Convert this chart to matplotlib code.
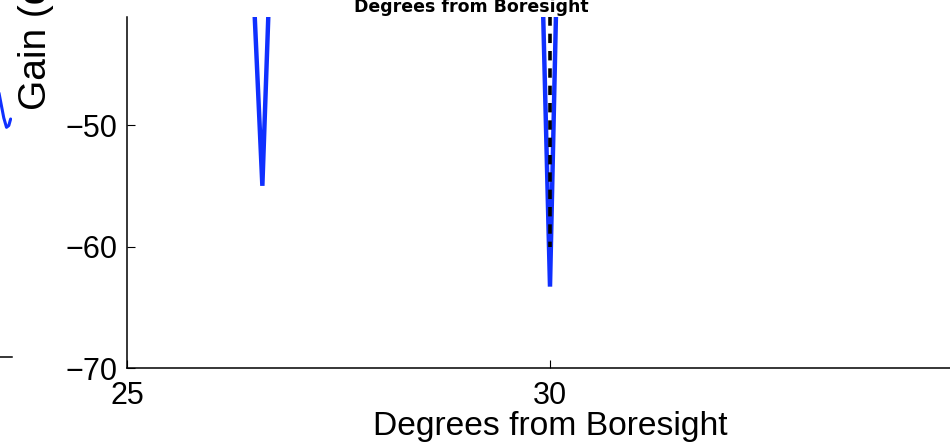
import matplotlib
matplotlib.use("Agg")
import matplotlib.pyplot as plt

plt.rcParams['font.family'] = ['Liberation Sans', 'DejaVu Sans']

# Gain pattern around the nulls (dB vs degrees from boresight)
angle_deg = [26.40, 26.51, 26.60, 26.67, 26.80, 28.30, 29.80, 29.92, 30.00, 30.07, 30.20, 32.00, 34.00, 35.00]
gain_db = [-30.0, -41.1, -55.0, -41.1, -32.0, -28.0, -33.0, -41.1, -63.3, -41.1, -32.0, -29.0, -33.0, -30.0]

# Marker at the 30 degree null
marker_x = [30.0, 30.0]
marker_y = [-38.0, -60.0]

# Trailing edge of the wide-angle pattern on the left
wide_angle = [87.0, 87.5, 88.2, 88.8, 89.3, 89.7]
wide_gain = [-15.0, -17.0, -19.8, -21.4, -21.1, -20.0]

x_ticks = [25, 30]
y_ticks = [-70, -60, -50]

W, H = 950, 448
fig = plt.figure(figsize=(W / 100, H / 100), dpi=100)

# Left (wide-angle) panel, mostly outside the canvas
axl = fig.add_axes([-400 / W, (H - 357) / H, 412 / W, 357 / H])
axl.plot(wide_angle, wide_gain, color='#1030ff', lw=2.2, solid_capstyle='round')
axl.set_xlim(0, 90)
axl.set_ylim(-60, 0)
for s in ['top', 'right', 'left']:
    axl.spines[s].set_visible(False)
axl.spines['bottom'].set_linewidth(1.1)
axl.set_xticks([])
axl.set_yticks([])
axl.patch.set_alpha(0)

# Zoomed panel
ax = fig.add_axes([127 / W, (H - 368) / H, 846 / W, 351 / H])
ax.plot(angle_deg, gain_db, color='#1030ff', lw=3.2, solid_joinstyle='miter')
ax.plot(marker_x, marker_y, color='black', lw=2.6, dashes=(2.6, 2.2))
ax.set_xlim(25, 35)
ax.set_ylim(-70, -41.1)
ax.set_xticks(x_ticks)
ax.set_yticks(y_ticks)
ax.tick_params(direction='in', length=6, width=0.8, labelsize=22, pad=7)
ax.tick_params(axis='x', pad=9)
for s in ['top', 'right']:
    ax.spines[s].set_visible(False)
for s in ['left', 'bottom']:
    ax.spines[s].set_linewidth(1.1)
ax.set_xlabel('Degrees from Boresight', fontsize=24.2, labelpad=0)
ax.patch.set_alpha(0)

fig.text(36 / W, (H - 110) / H, 'Gain (dB)', rotation=90, fontsize=28,
         ha='center', va='bottom', zorder=1)

# Panel strip above, overlapping the top of the zoomed panel
top = fig.add_axes([0, (H - 17) / H, 1, 17 / H], zorder=2)
top.set_facecolor('white')
top.axis('off')
top.patch.set_visible(True)
fig.text(471 / W, (H - 12.5) / H, 'Degrees from Boresight', fontsize=12.5,
         family='DejaVu Sans', weight='bold', ha='center', va='baseline',
         zorder=5)

fig.savefig('out.png', dpi=100)
